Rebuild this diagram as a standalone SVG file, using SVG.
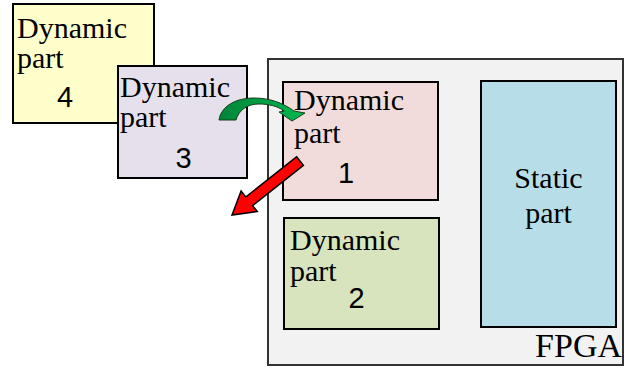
<svg xmlns="http://www.w3.org/2000/svg" width="628" height="368" viewBox="0 0 628 368">
<defs>
<style>
.box{stroke:#000;stroke-width:2}
.t{font-family:"Liberation Serif","Times New Roman",serif;font-size:30px;fill:#000}
.n{font-family:"Liberation Sans",Arial,sans-serif;font-size:29px;fill:#000;text-anchor:middle}
</style>
<linearGradient id="gg" x1="0" y1="0" x2="1" y2="0">
<stop offset="0" stop-color="#00843a"/>
<stop offset="1" stop-color="#00b84f"/>
</linearGradient>
</defs>
<rect width="628" height="368" fill="#fff"/>
<g id="fpga">
<rect x="268" y="59" width="355" height="306" fill="#f2f2f2" stroke="#333" stroke-width="2"/>
<text class="t" x="622" y="357" text-anchor="end" style="font-size:34px">FPGA</text>
</g>
<g id="dyn4">
<rect class="box" x="13" y="4" width="141" height="119" fill="#ffffcc"/>
<text class="t" x="17" y="38">Dynamic</text>
<text class="t" x="17" y="68">part</text>
<text class="n" x="65" y="107">4</text>
</g>
<g id="dyn3">
<rect class="box" x="118" y="66" width="129" height="112" fill="#e5e0ec"/>
<text class="t" x="120" y="97">Dynamic</text>
<text class="t" x="120" y="127">part</text>
<text class="n" x="183.5" y="168">3</text>
</g>
<g id="dyn1">
<rect class="box" x="283" y="82" width="155" height="118" fill="#f2dcdb"/>
<text class="t" x="294" y="110">Dynamic</text>
<text class="t" x="294" y="143">part</text>
<text class="n" x="346" y="183">1</text>
</g>
<g id="dyn2">
<rect class="box" x="284" y="218" width="155" height="111" fill="#d7e4bd"/>
<text class="t" x="290" y="250">Dynamic</text>
<text class="t" x="290" y="281">part</text>
<text class="n" x="356.5" y="308">2</text>
</g>
<g id="static">
<rect class="box" x="481" y="81" width="135" height="246" fill="#b7dee8"/>
<text class="t" x="548.5" y="188" text-anchor="middle">Static</text>
<text class="t" x="548.5" y="223" text-anchor="middle">part</text>
</g>
<g id="connectors">
<path d="M219,120 C221,106 236,98 254,98 C270,98 283,103 294,111 L305,113 L292,121 L279,112 L284,111 C278,106 268,104 259,104 C247,104 239,110 236,120 Z" fill="url(#gg)" stroke="#1b3d1b" stroke-width="1"/>
<polygon points="296.6,156.7 303.4,165.3 252.6,205.6 257.3,211.5 232,215 241.1,191.1 245.8,197" fill="#ff0000" stroke="#000" stroke-width="1.5" stroke-linejoin="miter"/>
</g>
</svg>
